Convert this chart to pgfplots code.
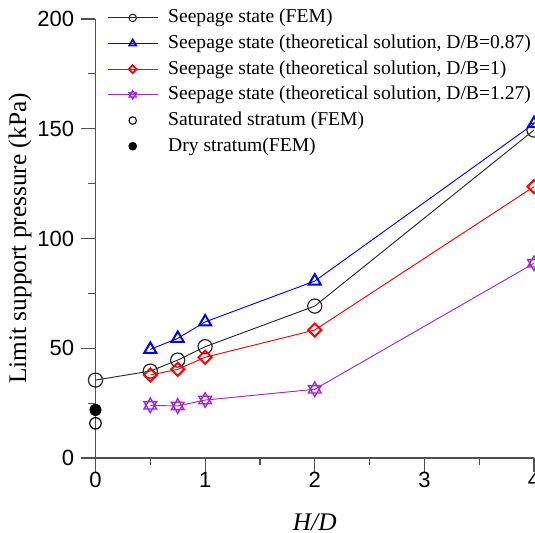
\documentclass[border=0pt]{standalone}
\usepackage{fontspec}
\setmainfont{Liberation Serif}
\newfontfamily\arialfont{Liberation Sans}
\usepackage{pgfplots}
\pgfplotsset{compat=1.18}

% six-pointed star: two overlapping triangles
\pgfdeclareplotmark{hexagram}{%
  \pgfpathmoveto{\pgfpointpolar{90}{\pgfplotmarksize}}%
  \pgfpathlineto{\pgfpointpolar{210}{\pgfplotmarksize}}%
  \pgfpathlineto{\pgfpointpolar{330}{\pgfplotmarksize}}%
  \pgfpathclose
  \pgfpathmoveto{\pgfpointpolar{270}{\pgfplotmarksize}}%
  \pgfpathlineto{\pgfpointpolar{30}{\pgfplotmarksize}}%
  \pgfpathlineto{\pgfpointpolar{150}{\pgfplotmarksize}}%
  \pgfpathclose
  \pgfusepathqstroke}

\definecolor{axgray}{RGB}{80,80,80}
\definecolor{fembl}{RGB}{40,40,40}
\definecolor{purp}{RGB}{160,40,210}

\begin{document}
\begin{tikzpicture}
\begin{axis}[
  name=ax, at={(0,0)}, anchor=south west,
  scale only axis, width=328.875pt, height=329.25pt,
  xmin=0, xmax=4, ymin=0, ymax=200,
  clip=false,
  axis lines*=left,
  axis line style={axgray, line width=0.9pt},
  xtick={0,1,2,3,4}, ytick={0,50,100,150,200},
  minor x tick num=1, minor y tick num=1,
  tick align=outside,
  major tick length=10.5pt, minor tick length=5.5pt,
  every tick/.style={axgray, line width=0.9pt},
  /pgf/number format/assume math mode=true,
  xticklabel style={font=\arialfont\fontsize{16.5}{18}\selectfont, yshift=3.5pt},
  yticklabel style={font=\arialfont\fontsize{16.5}{18}\selectfont, xshift=-2pt},
  xlabel={\textit{H/D}},
  ylabel={Limit support pressure (kPa)},
  label style={font=\fontsize{19}{22}\selectfont},
  xlabel style={at={(axis description cs:0.5,-0.1458)}, anchor=center},
  ylabel style={at={(axis description cs:-0.1722,0.5)}, anchor=center},
  legend cell align=left,
  legend style={at={(axis description cs:0.0262,1.0324)}, anchor=north west,
    draw=none, fill=none, inner sep=0pt, row sep=0pt,
    font=\fontsize{14.7}{17}\selectfont,
    nodes={inner sep=0pt, text height=13.3pt, text depth=5.95pt},
    /tikz/every odd column/.append style={column sep=7.5pt}},
  legend image code/.code={%
    \draw[mark repeat=2, mark phase=2, #1]
      plot coordinates {(0pt,0pt) (18.75pt,0pt) (37.5pt,0pt)};},
]

% legend entries (smaller marks than in the plot)
\addlegendimage{fembl, line width=0.7pt, mark=o, mark size=2.8pt, mark options={line width=0.8pt}}
\addlegendentry{Seepage state (FEM)}
\addlegendimage{blue, line width=0.7pt, mark=triangle, mark size=3pt, mark options={line width=1.3pt}}
\addlegendentry{Seepage state (theoretical solution, D/B=0.87)}
\addlegendimage{red, line width=0.7pt, mark=square, mark size=2.1pt, mark options={rotate=45, line width=1.3pt}}
\addlegendentry{Seepage state (theoretical solution, D/B=1)}
\addlegendimage{purp, line width=0.7pt, mark=hexagram, mark size=3.2pt, mark options={line width=0.9pt}}
\addlegendentry{Seepage state (theoretical solution, D/B=1.27)}
\addlegendimage{only marks, black, mark=o, mark size=2.8pt, mark options={line width=0.8pt}}
\addlegendentry{Saturated stratum (FEM)}
\addlegendimage{only marks, black, mark=*, mark size=3pt}
\addlegendentry{Dry stratum(FEM)}

% seepage state, FEM
\addplot[forget plot, fembl, line width=0.7pt, mark=o, mark size=5.3pt,
  mark options={line width=0.9pt}]
  coordinates {(0,35.5) (0.5,39.6) (0.75,44.6) (1,50.7) (2,69.2) (4,149.4)};
% theoretical solution, D/B = 0.87
\addplot[forget plot, blue, line width=0.7pt, mark=triangle, mark size=5.2pt,
  mark options={line width=1.5pt}]
  coordinates {(0.5,49.5) (0.75,54.5) (1,62) (2,80.6) (4,152.3)};
% theoretical solution, D/B = 1
\addplot[forget plot, red, line width=0.7pt, mark=square, mark size=3.5pt,
  mark options={rotate=45, line width=1.5pt}]
  coordinates {(0.5,37.8) (0.75,40.4) (1,45.9) (2,58.3) (4,123.6)};
% theoretical solution, D/B = 1.27
\addplot[forget plot, purp, line width=0.7pt, mark=hexagram, mark size=5.5pt,
  mark options={line width=1pt}]
  coordinates {(0.5,24) (0.75,23.7) (1,26.4) (2,31.3) (4,88.7)};
% saturated stratum, FEM
\addplot[forget plot, only marks, black, mark=o, mark size=4.3pt,
  mark options={line width=0.9pt}]
  coordinates {(0,15.8)};
% dry stratum, FEM
\addplot[forget plot, only marks, black, mark=*, mark size=4.3pt]
  coordinates {(0,21.9)};
\end{axis}
\pgfresetboundingbox
\useasboundingbox (-71.625pt,-55.5pt) rectangle (329.625pt,343.5pt);
\end{tikzpicture}
\end{document}
